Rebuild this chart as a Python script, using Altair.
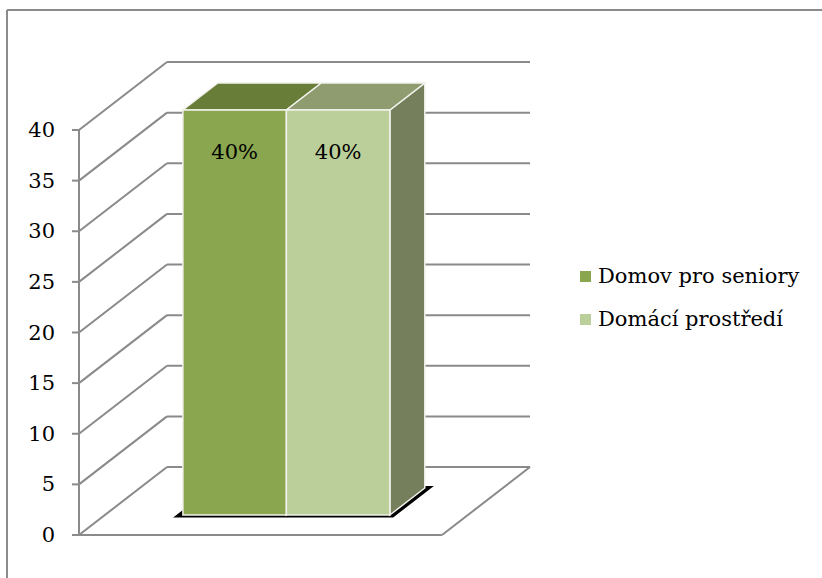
import altair as alt
import pandas as pd

# ---- data ----
series = ["Domov pro seniory", "Domácí prostředí"]
values = [40, 40]
value_labels = ["40%", "40%"]
y_ticks = [0, 5, 10, 15, 20, 25, 30, 35, 40]

front_colors = ["#8AA64F", "#BBCF9A"]
top_colors = ["#687D38", "#8E9C70"]
side_colors = ["#707F48", "#767F5C"]

# ---- layout (3D projection) ----
W, H = 822, 578
PX = 10.125            # pixels per value unit
ZERO_PX = 535          # pixel row of value 0 on the front axis
Y_DOM = [(ZERO_PX - H) / PX, ZERO_PX / PX]
AXIS_X = 79
FLOOR_W = 363
DEPTH_X = 88
DEPTH_U = 68 / PX
BAR_W = 103.5
F_FRONT = 20 / 68
F_BACK = 47 / 68
SH_FRONT = 17.5 / 68
SH_BACK = 49 / 68
SH_PAD = 6.5
FONT = "DejaVu Serif"
GRID = "#8A8A8A"

n = len(series)
center0 = AXIS_X + FLOOR_W / 2
lefts = [center0 + (i - (n - 1) / 2) * BAR_W - BAR_W / 2 for i in range(n)]

xs = alt.Scale(domain=[0, W], nice=False, zero=False)
ys = alt.Scale(domain=Y_DOM, nice=False, zero=False)

# grid / walls
lines = []
for v in y_ticks:
    lines.append(dict(x=AXIS_X, y=v, x2=AXIS_X + DEPTH_X, y2=v + DEPTH_U))
    lines.append(dict(x=AXIS_X + DEPTH_X, y=v + DEPTH_U, x2=AXIS_X + DEPTH_X + FLOOR_W, y2=v + DEPTH_U))
    lines.append(dict(x=AXIS_X - 7, y=v, x2=AXIS_X, y2=v))
lines.append(dict(x=AXIS_X, y=0, x2=AXIS_X, y2=max(y_ticks)))
lines.append(dict(x=AXIS_X, y=0, x2=AXIS_X + FLOOR_W, y2=0))
lines.append(dict(x=AXIS_X + FLOOR_W, y=0, x2=AXIS_X + FLOOR_W + DEPTH_X, y2=DEPTH_U))
lines_df = pd.DataFrame(lines)

grid = alt.Chart(lines_df).mark_rule(color=GRID, strokeWidth=2).encode(
    x=alt.X("x:Q", scale=xs, axis=None),
    y=alt.Y("y:Q", scale=ys, axis=None),
    x2="x2:Q", y2="y2:Q",
)

ticks_df = pd.DataFrame({"v": y_ticks, "lab": [str(t) for t in y_ticks], "x": [AXIS_X - 24] * len(y_ticks)})
tick_labels = alt.Chart(ticks_df).mark_text(
    align="right", baseline="middle", font=FONT, fontSize=21, color="black", dy=1
).encode(
    x=alt.X("x:Q", scale=xs, axis=None),
    y=alt.Y("v:Q", scale=ys, axis=None),
    text="lab:N",
)

# shadow under bars
sh_l = lefts[0] - SH_PAD
sh_r = lefts[-1] + BAR_W + SH_PAD
shadow_df = pd.DataFrame([
    dict(g="s", y=SH_FRONT * DEPTH_U, x=sh_l + SH_FRONT * DEPTH_X, x2=sh_r + SH_FRONT * DEPTH_X),
    dict(g="s", y=SH_BACK * DEPTH_U, x=sh_l + SH_BACK * DEPTH_X, x2=sh_r + SH_BACK * DEPTH_X),
])
shadow = alt.Chart(shadow_df).mark_area(orient="horizontal", color="black").encode(
    y=alt.Y("y:Q", scale=ys, axis=None),
    x=alt.X("x:Q", scale=xs, axis=None),
    x2="x2:Q",
    detail="g:N",
)

# bar faces
front_rows, top_rows, side_rows, label_rows = [], [], [], []
for i, (s, v, lab) in enumerate(zip(series, values, value_labels)):
    L = lefts[i]
    R = L + BAR_W
    front_rows.append(dict(series=s, x=L + F_FRONT * DEPTH_X, x2=R + F_FRONT * DEPTH_X,
                           y=F_FRONT * DEPTH_U, y2=v + F_FRONT * DEPTH_U))
    for f in (F_FRONT, F_BACK):
        top_rows.append(dict(series=s, c=top_colors[i], y=v + f * DEPTH_U,
                             x=L + f * DEPTH_X, x2=R + f * DEPTH_X))
        side_rows.append(dict(series=s, c=side_colors[i], x=R + f * DEPTH_X,
                              y=f * DEPTH_U, y2=v + f * DEPTH_U))
    label_rows.append(dict(series=s, lab=lab, x=(L + R) / 2 + F_FRONT * DEPTH_X,
                           y=v + F_FRONT * DEPTH_U))

sides = alt.Chart(pd.DataFrame(side_rows)).mark_area(
    orient="vertical", stroke="#F2F2EC", strokeWidth=1.5
).encode(
    x=alt.X("x:Q", scale=xs, axis=None),
    y=alt.Y("y:Q", scale=ys, axis=None),
    y2="y2:Q",
    fill=alt.Fill("c:N", scale=None),
    detail="series:N",
)

tops = alt.Chart(pd.DataFrame(top_rows)).mark_area(
    orient="horizontal", stroke="#F2F2EC", strokeWidth=1.5
).encode(
    y=alt.Y("y:Q", scale=ys, axis=None),
    x=alt.X("x:Q", scale=xs, axis=None),
    x2="x2:Q",
    fill=alt.Fill("c:N", scale=None),
    detail="series:N",
)

fronts = alt.Chart(pd.DataFrame(front_rows)).mark_rect(
    stroke="#F2F2EC", strokeWidth=1.5
).encode(
    x=alt.X("x:Q", scale=xs, axis=None),
    x2="x2:Q",
    y=alt.Y("y:Q", scale=ys, axis=None),
    y2="y2:Q",
    color=alt.Color(
        "series:N",
        scale=alt.Scale(domain=series, range=front_colors),
        legend=alt.Legend(
            title=None, orient="none", legendX=575, legendY=266,
            symbolType="square", symbolSize=121, symbolStrokeWidth=0,
            labelFont=FONT, labelFontSize=21, labelColor="black",
            labelOffset=2, rowPadding=21, padding=0, labelLimit=400,
        ),
    ),
)

labels = alt.Chart(pd.DataFrame(label_rows)).mark_text(
    align="center", baseline="middle", font=FONT, fontSize=21, color="black", dy=43
).encode(
    x=alt.X("x:Q", scale=xs, axis=None),
    y=alt.Y("y:Q", scale=ys, axis=None),
    text="lab:N",
)

frame_l = alt.Chart(pd.DataFrame({"a": [0]})).mark_rule(color="#8C8C8C", strokeWidth=2).encode(
    x=alt.value(7), x2=alt.value(7), y=alt.value(10), y2=alt.value(H))
frame_t = alt.Chart(pd.DataFrame({"a": [0]})).mark_rule(color="#8C8C8C", strokeWidth=2).encode(
    x=alt.value(7), x2=alt.value(W), y=alt.value(10), y2=alt.value(10))

chart = alt.layer(
    frame_l, frame_t, grid, tick_labels, shadow, sides, tops, fronts, labels
).properties(
    width=W, height=H, autosize=alt.AutoSizeParams(type="none"), padding=0,
    background="white",
).configure_view(stroke=None)

chart.save("out.html", embed_options={"renderer": "svg", "actions": False})
